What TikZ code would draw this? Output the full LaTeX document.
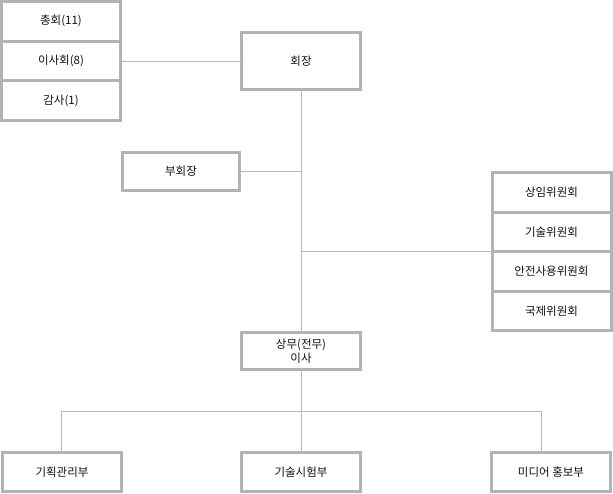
\documentclass[tikz,border=0pt]{standalone}
\usepackage{fontspec}
\setmainfont{Noto Sans CJK KR}
\usepackage{xcolor}
\usetikzlibrary{positioning}
\definecolor{boxgray}{HTML}{B3B3B3}
\definecolor{linegray}{HTML}{B8B8B8}
\definecolor{textgray}{HTML}{111111}

\begin{document}
\begin{tikzpicture}[x=1pt, y=-1pt,
    unit/.style={rectangle, draw=boxgray, line width=3pt, outer sep=0pt, minimum width=119pt, minimum height=39.7pt, align=center, fill=white, text=textgray, font=\fontsize{11.5}{14}\selectfont},
    link/.style={draw=linegray, line width=1pt}
]
    \useasboundingbox (0,0) rectangle (613,493);

    % top level
    \node[unit, minimum height=57pt] (chair) at (301,61) {회장};
    \node[unit] (board) at (61,61) {이사회(8)};
    \node[unit, above=0pt of board] (general) {총회(11)};
    \node[unit, below=0pt of board] (audit) {감사(1)};
    \node[unit, minimum width=117pt, minimum height=38pt] (vice) at (181,171) {부회장};

    % committees
    \node[unit, minimum height=39.5pt] (standing) at (551.5,192.25) {상임위원회};
    \node[unit, minimum height=39.5pt, below=0pt of standing] (techcom) {기술위원회};
    \node[unit, minimum height=39.5pt, below=0pt of techcom] (safety) {안전사용위원회};
    \node[unit, minimum height=39.5pt, below=0pt of safety] (intl) {국제위원회};

    \node[unit, minimum height=37pt] (exec) at (301,351) {상무(전무)\\이사};

    % departments
    \node[unit, minimum height=39pt] (plan) at (62,472) {기획관리부};
    \node[unit, minimum height=39pt] (test) at (301,472) {기술시험부};
    \node[unit, minimum height=39pt] (media) at (551,472) {미디어 홍보부};

    \coordinate (split) at (301,411);
    \coordinate (splitL) at (61,411);
    \coordinate (splitR) at (541,411);

    \draw[link] (board.east) -- (chair.west);
    \draw[link] (chair.south) -- (exec.north);
    \draw[link] (vice.east) -- (vice.east -| chair.south);
    \draw[link] (techcom.south west -| chair.south) -- (techcom.south west);
    \draw[link] (exec.south) -- (split);
    \draw[link] (splitL) -- (splitR);
    \draw[link] (splitL) -- (splitL |- plan.north);
    \draw[link] (split) -- (test.north);
    \draw[link] (splitR) -- (splitR |- media.north);
\end{tikzpicture}
\end{document}
